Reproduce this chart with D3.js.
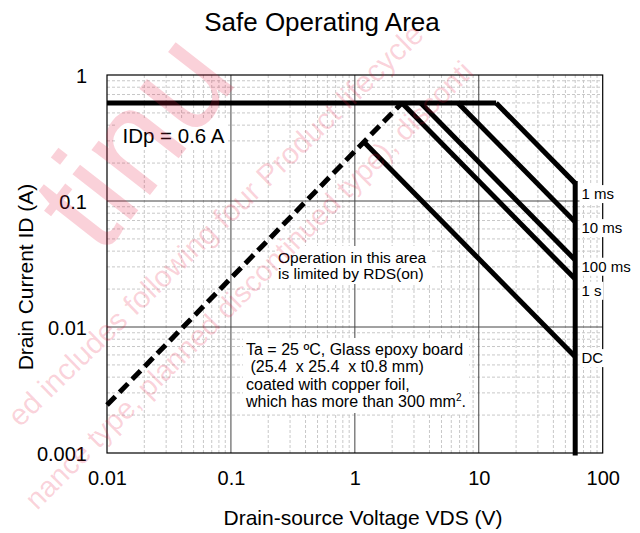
<!DOCTYPE html>
<html><head><meta charset="utf-8">
<script src="https://cdn.jsdelivr.net/npm/d3@7"></script>
<style>body{margin:0;background:#fff}svg{display:block}text{font-family:"Liberation Sans",Arial,sans-serif}</style>
</head><body>
<svg id="c" width="640" height="533"></svg>
<script>
// ---- data ----
const xTicks=[0.01,0.1,1,10,100];
const xTickLabels=["0.01","0.1","1","10","100"];
const yTicks=[0.001,0.01,0.1,1];
const yTickLabels=["0.001","0.01","0.1","1"];
const idpLine=[[0.01,0.6],[13.8,0.6]];
const rdsLimit=[[0.01,0.0024],[2.4,0.6]];
const curveNames=["1 ms","10 ms","100 ms","1 s","DC"];
const curve1ms=[[13.8,0.6],[60,0.138]];
const curve10ms=[[6.8,0.6],[60,0.068]];
const curve100ms=[[3.4,0.6],[60,0.034]];
const curve1s=[[2.4,0.6],[60,0.024]];
const curveDC=[[1.2,0.29],[60,0.0058]];
const vdssLimit=[[60,0.138],[60,0.001]];
const noteRds=["Operation in this area","is limited by RDS(on)"];
const noteTa=["Ta = 25 ºC, Glass epoxy board"," (25.4  x 25.4  x t0.8 mm)","coated with copper foil,","which has more than 300 mm"];
const wmBig="tinu";
const wmLine1="ed includes following four Product lifecycle";
const wmLine2="nance type, planned discontinued type), disconti";

// ---- layout ----
const svg=d3.select("#c");
const x=d3.scaleLog().domain([0.01,100]).range([107,602.7]);
const y=d3.scaleLog().domain([0.001,1]).range([453,75]);
const FONT='"Liberation Sans",Arial,sans-serif';
svg.append("rect").attr("width",640).attr("height",533).attr("fill","#fff");

// minor grid
const minorX=[],minorY=[];
[0.01,0.1,1,10].forEach(d=>{for(let k=2;k<10;k++)minorX.push(d*k);});
[0.001,0.01,0.1].forEach(d=>{for(let k=2;k<10;k++)minorY.push(d*k);});
const g=svg.append("g");
g.selectAll("line.mx").data(minorX).join("line").attr("x1",d=>x(d)).attr("x2",d=>x(d))
 .attr("y1",y(1)).attr("y2",y(0.001)).attr("stroke","#c8c8c8").attr("stroke-dasharray","3,2");
g.selectAll("line.my").data(minorY).join("line").attr("y1",d=>y(d)).attr("y2",d=>y(d))
 .attr("x1",x(0.01)).attr("x2",x(100)).attr("stroke","#c8c8c8").attr("stroke-dasharray","3,2");
g.selectAll("line.Mx").data(xTicks.slice(1,-1)).join("line").attr("x1",d=>x(d)).attr("x2",d=>x(d))
 .attr("y1",y(1)).attr("y2",y(0.001)).attr("stroke","#444");
g.selectAll("line.My").data(yTicks.slice(1,-1)).join("line").attr("y1",d=>y(d)).attr("y2",d=>y(d))
 .attr("x1",x(0.01)).attr("x2",x(100)).attr("stroke","#444");
svg.append("rect").attr("x",x(0.01)).attr("y",y(1)).attr("width",x(100)-x(0.01)).attr("height",y(0.001)-y(1))
 .attr("fill","none").attr("stroke","#000").attr("stroke-width",1.2);

// axes
const xa=svg.append("g").attr("transform",`translate(0,${y(0.001)})`)
 .call(d3.axisBottom(x).tickValues(xTicks).tickSize(0).tickFormat((d,i)=>xTickLabels[i]));
xa.select(".domain").remove();
xa.selectAll("text").attr("y",32).attr("dy",0).attr("font-size",20).attr("font-family",FONT).attr("fill","#000");
const ya=svg.append("g").attr("transform",`translate(${x(0.01)},0)`)
 .call(d3.axisLeft(y).tickValues(yTicks).tickSize(0).tickFormat((d,i)=>yTickLabels[i]));
ya.select(".domain").remove();
ya.selectAll("text").attr("x",-20).attr("dy",7).attr("font-size",20).attr("font-family",FONT).attr("fill","#000");

// titles
svg.append("text").attr("x",322).attr("y",31).attr("text-anchor","middle").attr("font-size",26).text("Safe Operating Area");
svg.append("text").attr("x",363).attr("y",525).attr("text-anchor","middle").attr("font-size",21).text("Drain-source Voltage VDS (V)");
svg.append("text").attr("transform","translate(33,277) rotate(-90)").attr("text-anchor","middle").attr("font-size",21).text("Drain Current ID (A)");

// annotation boxes
function box(x0,y0,w,h){svg.append("rect").attr("x",x0).attr("y",y0).attr("width",w).attr("height",h).attr("fill","#fff");}
box(116,118,112,32);
svg.append("text").attr("x",122.5).attr("y",143.3).attr("font-size",20.5).text("IDp = 0.6 A");
box(275,246,157,38);
svg.selectAll("text.rds").data(noteRds).join("text").attr("x",278).attr("y",(d,i)=>262.5+i*16.5)
 .attr("font-size",15.5).text(d=>d);
box(243,338,226,75);
const ta=svg.selectAll("text.ta").data(noteTa).join("text").attr("x",246).attr("y",(d,i)=>355+i*17.4)
 .attr("font-size",16).attr("xml:space","preserve").style("white-space","pre").text(d=>d);
ta.filter((d,i)=>i===3).append("tspan").attr("font-size",10).attr("dy",-6).text("2");
ta.filter((d,i)=>i===3).append("tspan").attr("dy",6).text(".");

// curves
const line=d3.line().x(d=>x(d[0])).y(d=>y(d[1]));
const solid=[idpLine,curve1ms,curve10ms,curve100ms,curve1s,curveDC];
svg.selectAll("path.c").data(solid).join("path").attr("d",line).attr("fill","none")
 .attr("stroke","#000").attr("stroke-width",5).attr("stroke-linejoin","miter");
svg.append("path").attr("d",line(vdssLimit)).attr("fill","none").attr("stroke","#000").attr("stroke-width",5).attr("stroke-linecap","square");
svg.append("path").attr("d",line(rdsLimit)).attr("fill","none").attr("stroke","#000").attr("stroke-width",5)
 .attr("stroke-dasharray","12,6");

// right-side labels
const labelEnds=[curve1ms,curve10ms,curve100ms,curve1s,curveDC].map(c=>c[1][1]);
const labelDy=[15.7,11,11.7,16.7,6.3];
const lab=svg.append("g");
curveNames.forEach((n,i)=>{
  const by=y(labelEnds[i])+labelDy[i];
  const t=lab.append("text").attr("x",581.5).attr("y",by).attr("font-size",15).text(n);
  const w=t.node().getComputedTextLength();
  lab.insert("rect","text").attr("x",579.5).attr("y",by-14).attr("width",w+4).attr("height",18).attr("fill","#fff");
});

// watermark
const wm=svg.append("g").attr("fill","#e8193f").attr("fill-opacity",0.2).style("pointer-events","none");
wm.append("text").attr("transform","translate(101,258) rotate(-52)").attr("font-size",140).text(wmBig);
wm.append("text").attr("transform","translate(20,428) rotate(-44)").attr("font-size",30).text(wmLine1);
wm.append("text").attr("transform","translate(37,511) rotate(-45)").attr("font-size",29).text(wmLine2);
</script>
</body></html>
